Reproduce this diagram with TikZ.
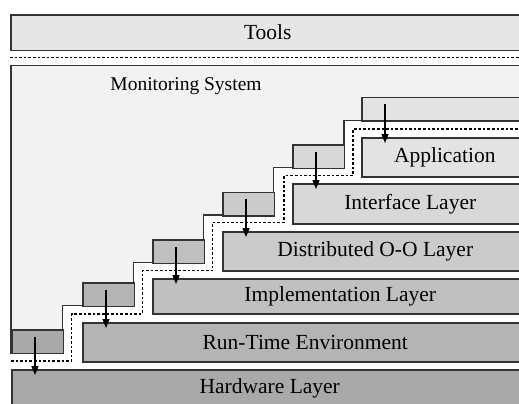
\documentclass[tikz,border=0pt]{standalone}
\usepackage{fontspec}
\setmainfont{Liberation Serif}
\usetikzlibrary{arrows.meta}

\definecolor{toolsgray}{HTML}{E6E6E6}
\definecolor{mongray}{HTML}{F2F2F2}
\definecolor{appgray}{HTML}{E3E3E3}
\definecolor{intfgray}{HTML}{D8D8D8}
\definecolor{distgray}{HTML}{CBCBCB}
\definecolor{implgray}{HTML}{C0C0C0}
\definecolor{rtgray}{HTML}{B4B4B4}
\definecolor{hwgray}{HTML}{A9A9A9}

\tikzset{
  layerbox/.style={rectangle, draw=black!80, line width=1.5bp, inner sep=0pt,
    anchor=north west, font=\fontsize{21.5bp}{26bp}\selectfont},
  stubbox/.style={rectangle, draw=black!80, line width=1.5bp, inner sep=0pt,
    anchor=north west, minimum width=51.6bp, minimum height=23.5bp},
  feed/.style={line width=1.4bp, -{Triangle[length=9bp,width=7bp]}},
  sepline/.style={line width=1.4bp, dash pattern=on 2.6bp off 2bp}
}

\begin{document}
\begin{tikzpicture}[x=1bp, y=-1bp]
  \clip (0,0) rectangle (519,403);

  % tools on top, split off by a dotted line
  \node[layerbox, fill=toolsgray, minimum width=514bp, minimum height=35.5bp]
    (tools) at (10,14) {Tools};
  \draw[sepline] (10,57.5) -- (527,57.5);

  % monitoring system, stepped down along the layers
  \draw[fill=mongray, draw=black!80, line width=1.5bp]
    (11,65.5) -- (527,65.5) -- (527,120.7) -- (344,120.7) -- (344,167.7)
    -- (273.6,167.7) -- (273.6,215) -- (203.3,215) -- (203.3,262.3)
    -- (133.3,262.3) -- (133.3,305.7) -- (62.7,305.7) -- (62.7,353)
    -- (11,353) -- cycle;
  \node[font=\fontsize{19.5bp}{23bp}\selectfont] (mon) at (186,86) {Monitoring System};

  % probes, one per layer
  \node[stubbox, fill=hwgray] (s0) at (11,329) {};
  \node[stubbox, fill=rtgray] (s1) at (82,282.3) {};
  \node[stubbox, fill=implgray] (s2) at (152,239) {};
  \node[stubbox, fill=distgray] (s3) at (222,191.7) {};
  \node[stubbox, fill=intfgray] (s4) at (292,144.3) {};
  \node[stubbox, fill=appgray, minimum width=170bp] (s5) at (361,96.7) {};

  % the layers
  \node[layerbox, fill=hwgray, minimum width=516bp, minimum height=38bp]
    (hw) at (11,369) {Hardware Layer};
  \node[layerbox, fill=rtgray, minimum width=445bp, minimum height=39bp]
    (rt) at (82,322) {Run-Time Environment};
  \node[layerbox, fill=implgray, minimum width=375bp, minimum height=35bp]
    (impl) at (152,278) {Implementation Layer};
  \node[layerbox, fill=distgray, minimum width=305bp, minimum height=39bp]
    (dist) at (222,231) {Distributed O-O Layer};
  \node[layerbox, fill=intfgray, minimum width=235bp, minimum height=40bp]
    (intf) at (292,183) {Interface Layer};
  \node[layerbox, fill=appgray, minimum width=166bp, minimum height=39bp]
    (app) at (361,137) {Application};

  % dotted border between monitor and layers
  \draw[sepline] (11,361) -- (71.7,361) -- (71.7,314) -- (142.3,314)
    -- (142.3,270.7) -- (212.7,270.7) -- (212.7,222.3) -- (284,222.3)
    -- (284,175.7) -- (353,175.7) -- (353,129) -- (527,129);

  % each probe reaches into its layer
  \foreach \s/\l in {s0/hw, s1/rt, s2/impl, s3/dist, s4/intf, s5/app}
    \draw[feed] ([shift={(24bp,-7.5bp)}]\s.north west)
      -- ([shift={(24bp,-6bp)}]\l.north west);
\end{tikzpicture}
\end{document}
